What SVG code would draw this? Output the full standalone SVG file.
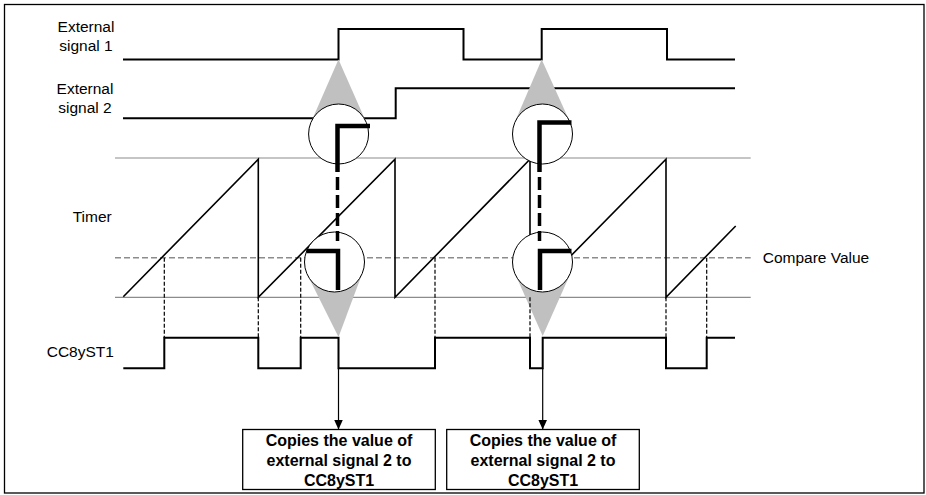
<svg xmlns="http://www.w3.org/2000/svg" width="926" height="495" viewBox="0 0 926 495">
<style>
.lbl{font-family:"Liberation Sans",Arial,sans-serif;font-size:15.5px;fill:#000}
.btxt{font-family:"Liberation Sans",Arial,sans-serif;font-size:16px;font-weight:bold;fill:#000;text-anchor:middle}
.sig{fill:none;stroke:#000;stroke-width:2}
.saw{fill:none;stroke:#000;stroke-width:1.6}
.ref{fill:none;stroke:#8c8c8c;stroke-width:1.2}
.cmp{fill:none;stroke:#8c8c8c;stroke-width:1.5;stroke-dasharray:6 3}
.vd{fill:none;stroke:#000;stroke-width:1.2;stroke-dasharray:4 2}
.tri{fill:#c0c0c0;stroke:none}
.circ{fill:#fff;stroke:#000;stroke-width:1}
.L{fill:none;stroke:#000;stroke-width:4.5;stroke-linejoin:miter}
.Ld{fill:none;stroke:#000;stroke-width:3.5;stroke-dasharray:13 5}
.box{fill:#fff;stroke:#000;stroke-width:1.3}
.arr{fill:none;stroke:#000;stroke-width:1.2}
</style>
<defs>
<marker id="ah" markerWidth="10" markerHeight="9" refX="10" refY="4.5" orient="auto" markerUnits="userSpaceOnUse">
<path d="M0,0 L10,4.5 L0,9 Z" fill="#000"/>
</marker>
</defs>
<rect id="frame" x="4.5" y="4.5" width="919.5" height="488.5" fill="none" stroke="#000" stroke-width="1.3"/>

<g id="labels">
<text class="lbl" x="86" y="32" text-anchor="middle">External</text>
<text class="lbl" x="86" y="50.5" text-anchor="middle">signal 1</text>
<text class="lbl" x="85" y="94" text-anchor="middle">External</text>
<text class="lbl" x="85" y="112.5" text-anchor="middle">signal 2</text>
<text class="lbl" x="72.7" y="221.7">Timer</text>
<text class="lbl" x="46.7" y="356.7">CC8yST1</text>
<text class="lbl" x="762.7" y="263.3">Compare Value</text>
</g>

<g id="timer-axis">
<line class="ref" x1="115" y1="158" x2="750.7" y2="158"/>
<line class="ref" x1="115" y1="297.3" x2="750.7" y2="297.3"/>
<line class="cmp" x1="115" y1="257.7" x2="750.7" y2="257.7"/>
</g>

<g id="timer">
<path class="saw" d="M123.3,296.7 L258.3,159.3 V297.3 L395,159.3 V297.3 L530,159.3 V297.3 L666,159.3 V297.3 L735.7,226"/>
</g>

<g id="ext-signal-1">
<path class="sig" d="M123,59.5 H338.5 V29 H463.5 V59.5 H541.7 V29 H667 V59.5 H735"/>
</g>
<g id="ext-signal-2">
<path class="sig" d="M123,118.3 H395.7 V88.3 H735"/>
</g>
<g id="cc8yst1">
<path class="sig" d="M123.3,368.3 H164.3 V337.7 H258.3 V368.3 H300.7 V337.7 H338.5 V368.3 H435 V337.7 H530 V368.3 H542.7 V337.7 H666 V368.3 H706.7 V337.7 H735"/>
</g>

<g id="capture-1">
<polygon class="tri" points="338.5,59.5 366.1,121.9 338.5,134 311.1,121.9"/>
<polygon class="tri" points="338.5,337 362.5,272.7 334.5,262 307.6,275.3"/>
<circle class="circ" cx="338.6" cy="134" r="30"/>
<circle class="circ" cx="334.5" cy="262" r="30"/>
<path class="L" d="M337.5,172 V126 H370"/>
<path class="Ld" d="M337.5,177 V241"/>
<path class="L" d="M306.5,251 H338 V290"/>
</g>

<g id="capture-2">
<polygon class="tri" points="541.7,59.5 569.9,122 542.5,134 514.9,122"/>
<polygon class="tri" points="542.7,336 570.1,274.2 542.5,262 515.3,274.2"/>
<circle class="circ" cx="542.5" cy="134" r="30"/>
<circle class="circ" cx="542.5" cy="262" r="30"/>
<path class="L" d="M539.5,172 V122.5 H571.5"/>
<path class="Ld" d="M539.5,177 V241"/>
<path class="L" d="M571.5,251 H540 V290"/>
</g>

<g id="compare-markers">
<line class="vd" x1="164.3" y1="257.7" x2="164.3" y2="337.7"/>
<line class="vd" x1="258.3" y1="297.3" x2="258.3" y2="337.7"/>
<line class="vd" x1="300.7" y1="257.7" x2="300.7" y2="337.7"/>
<line class="vd" x1="435" y1="257.7" x2="435" y2="337.7"/>
<line class="vd" x1="530" y1="297.3" x2="530" y2="337.7"/>
<line class="vd" x1="666" y1="297.3" x2="666" y2="337.7"/>
<line class="vd" x1="706.7" y1="257.7" x2="706.7" y2="337.7"/>
</g>

<g id="connectors">
<line class="arr" x1="338.5" y1="368.3" x2="338.5" y2="429.5" marker-end="url(#ah)"/>
<line class="arr" x1="542.7" y1="368.3" x2="542.7" y2="429.5" marker-end="url(#ah)"/>
</g>

<g id="box-1">
<rect class="box" x="242.7" y="429.5" width="192.6" height="60"/>
<text class="btxt" x="339" y="446">Copies the value of</text>
<text class="btxt" x="339" y="466">external signal 2 to</text>
<text class="btxt" x="339" y="486">CC8yST1</text>
</g>
<g id="box-2">
<rect class="box" x="446.7" y="429.5" width="192.6" height="60"/>
<text class="btxt" x="543" y="446">Copies the value of</text>
<text class="btxt" x="543" y="466">external signal 2 to</text>
<text class="btxt" x="543" y="486">CC8yST1</text>
</g>
</svg>
